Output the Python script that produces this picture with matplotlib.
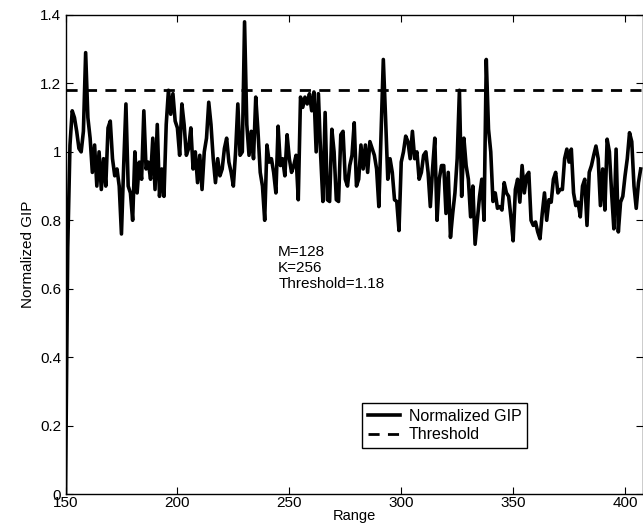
import matplotlib
matplotlib.use("Agg")
import matplotlib.pyplot as plt
from matplotlib.ticker import FuncFormatter

plt.rcParams['font.family'] = ['Liberation Sans', 'DejaVu Sans']

range_start = 150
gip = [
    0.00, 0.72, 1.02, 1.12, 1.10, 1.06, 1.01, 1.00, 1.06, 1.29,   # 150-159
    1.10, 1.04, 0.94, 1.02, 0.90, 1.00, 0.89, 0.98, 0.90, 1.07,   # 160-169
    1.09, 0.98, 0.93, 0.95, 0.90, 0.76, 0.96, 1.14, 0.90, 0.88,   # 170-179
    0.80, 1.00, 0.88, 0.97, 0.92, 1.12, 0.95, 0.97, 0.92, 1.04,   # 180-189
    0.89, 1.08, 0.87, 0.95, 0.87, 1.08, 1.18, 1.11, 1.17, 1.09,   # 190-199
    1.07, 0.99, 1.14, 1.08, 0.99, 1.01, 1.07, 0.95, 1.00, 0.91,   # 200-209
    0.99, 0.89, 1.00, 1.04, 1.145, 1.08, 0.98, 0.91, 0.98, 0.93,  # 210-219
    0.95, 1.01, 1.04, 0.97, 0.94, 0.90, 1.00, 1.14, 0.99, 1.00,   # 220-229
    1.38, 1.08, 0.99, 1.06, 0.98, 1.16, 1.06, 0.94, 0.90, 0.80,   # 230-239
    1.02, 0.97, 0.98, 0.94, 0.88, 1.075, 0.96, 0.98, 0.93, 1.05,  # 240-249
    0.98, 0.94, 0.96, 0.99, 0.86, 1.16, 1.13, 1.16, 1.14, 1.17,   # 250-259
    1.12, 1.175, 1.00, 1.17, 0.99, 0.855, 1.115, 0.86, 0.855, 1.066,  # 260-269
    1.00, 0.86, 0.855, 1.05, 1.06, 0.92, 0.90, 0.96, 0.99, 1.085,  # 270-279
    0.90, 0.92, 1.02, 0.95, 1.02, 0.94, 1.03, 1.01, 0.99, 0.95,   # 280-289
    0.84, 1.06, 1.27, 1.10, 0.92, 0.98, 0.94, 0.86, 0.855, 0.77,  # 290-299
    0.97, 1.00, 1.046, 1.03, 0.98, 1.06, 0.98, 1.00, 0.92, 0.94,  # 300-309
    0.99, 1.00, 0.94, 0.84, 0.95, 1.04, 0.80, 0.92, 0.96, 0.96,   # 310-319
    0.82, 0.94, 0.75, 0.82, 0.88, 0.98, 1.18, 0.87, 1.04, 0.96,   # 320-329
    0.92, 0.81, 0.90, 0.73, 0.80, 0.87, 0.92, 0.80, 1.27, 1.066,  # 330-339
    1.00, 0.855, 0.88, 0.835, 0.84, 0.83, 0.91, 0.88, 0.87, 0.81, # 340-349
    0.74, 0.89, 0.92, 0.853, 0.96, 0.88, 0.93, 0.94, 0.80, 0.785, # 350-359
    0.795, 0.766, 0.746, 0.82, 0.88, 0.80, 0.86, 0.853, 0.92, 0.94,  # 360-369
    0.88, 0.89, 0.89, 0.98, 1.008, 0.97, 1.008, 0.88, 0.843, 0.853, # 370-379
    0.81, 0.90, 0.92, 0.785, 0.94, 0.96, 0.99, 1.017, 0.98, 0.843,  # 380-389
    0.95, 0.83, 1.037, 1.00, 0.88, 0.775, 1.008, 0.766, 0.853, 0.87, # 390-399
    0.93, 0.98, 1.056, 1.03, 0.90, 0.835, 0.91, 0.95,               # 400-407
]
ranges = list(range(range_start, range_start + len(gip)))
threshold = 1.18
annotation_lines = ["M=128", "K=256", "Threshold=1.18"]

fig = plt.figure(figsize=(6.43, 5.24), dpi=100)
ax = fig.add_axes([65.5 / 643, 30 / 524, (642.5 - 65.5) / 643, (494 - 15) / 524])

ax.plot(ranges, gip, color='black', linewidth=2.6, label='Normalized GIP')
ax.axhline(threshold, color='black', linewidth=2.0, linestyle=(0, (4, 3)), label='Threshold')

ax.set_xlim(150, 407.8)
ax.set_ylim(0, 1.4)
ax.set_xticks([150, 200, 250, 300, 350, 400])
ax.set_yticks([0, 0.2, 0.4, 0.6, 0.8, 1.0, 1.2, 1.4])
ax.yaxis.set_major_formatter(FuncFormatter(lambda v, p: f"{v:g}"))
ax.tick_params(direction='in', top=True, right=True, labelsize=11, length=5, width=0.8)
ax.tick_params(axis='x', pad=1.5)
ax.tick_params(axis='y', pad=3)
for s in ax.spines.values():
    s.set_linewidth(1.0)

ax.set_xlabel('Range', fontsize=10.5, labelpad=-1)
ax.set_ylabel('Normalized GIP', fontsize=11, labelpad=4)

ax.text(245, 0.66, "\n".join(annotation_lines), fontsize=11, va='center', ha='left',
        linespacing=1.2)

leg = ax.legend(loc='lower left', bbox_to_anchor=(0.5, 0.08), fontsize=11.5,
                fancybox=False, framealpha=1, edgecolor='black', handlelength=2.0,
                borderpad=0.35, labelspacing=0.2, handletextpad=0.6)
leg.get_frame().set_linewidth(1.0)

fig.savefig('out.png', dpi=100)
